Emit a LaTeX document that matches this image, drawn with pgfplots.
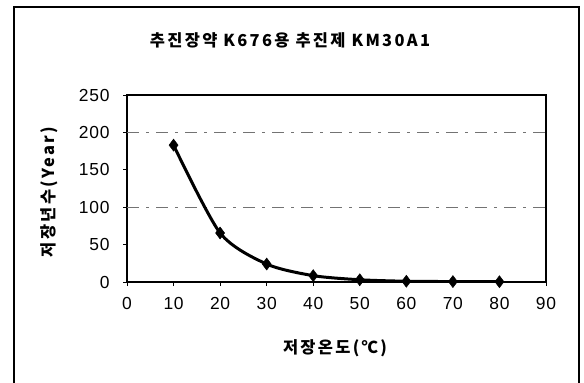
\documentclass[border=0pt]{standalone}
\usepackage{pgfplots}
\pgfplotsset{compat=1.18}
\usepackage{fontspec}
\setmainfont{Liberation Sans}
\newfontfamily\kr{Noto Sans CJK KR}[LetterSpace=14]
\newfontfamily\num{Liberation Sans}[LetterSpace=4]
\begin{document}
\begin{tikzpicture}[x=1bp,y=1bp]
\useasboundingbox (0,0) rectangle (584,382);
\draw[line width=2bp] (14,-5) -- (14,375) -- (579,375) -- (579,-5);
\begin{axis}[
  at={(127bp,100bp)}, anchor=south west,
  scale only axis, width=419bp, height=187bp,
  xmin=0, xmax=90, ymin=0, ymax=250,
  xtick={0,10,...,90}, ytick={0,50,...,250},
  axis line style={line width=1.6bp},
  tick style={black, line width=1bp},
  major tick length=4bp,
  tick align=outside,
  xtick pos=bottom, ytick pos=left,
  /pgf/number format/assume math mode=true,
  tick label style={font=\num\fontsize{17.5}{20}\selectfont},
  xticklabel style={yshift=-8bp},
  yticklabel style={xshift=-10bp},
  extra y ticks={100,200},
  extra y tick labels={},
  extra y tick style={grid=major, major tick length=0pt,
     major grid style={black!55, line width=1bp, dash pattern=on 12bp off 7bp on 3bp off 7bp}},
]
\addplot[black, line width=3bp, smooth, tension=0.45, mark=diamond*, mark size=6bp,
  mark options={solid, fill=black, line width=0.5bp}]
  coordinates {(10,183) (20,65.5) (30,24) (40,8.5) (50,3) (60,1) (70,0.6) (80,0.4)};
\end{axis}
\node[font={\kr\bfseries\fontsize{16.5}{20}\selectfont}] at (290,342) {추진장약 K676용 추진제 KM30A1};
\node[font={\kr\bfseries\fontsize{16.5}{20}\selectfont}] at (335,34) {저장온도(℃)};
\node[font={\kr\bfseries\fontsize{16.5}{20}\selectfont}, rotate=90] at (49,190) {저장년수(Year)};
\end{tikzpicture}
\end{document}
